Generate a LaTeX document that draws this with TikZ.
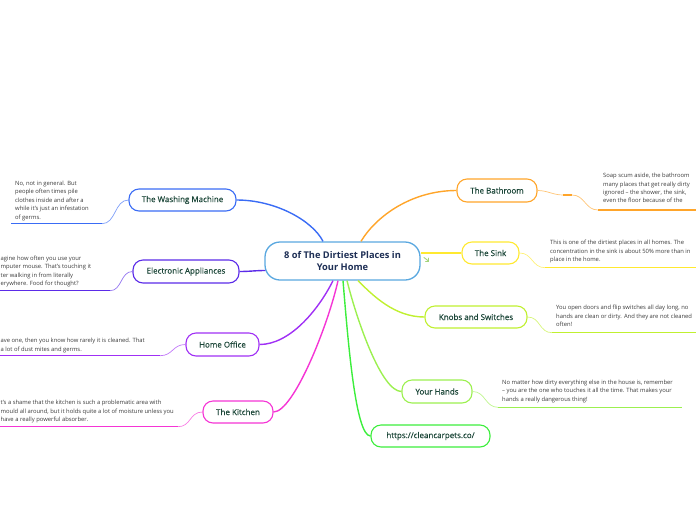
\documentclass[tikz,border=0pt]{standalone}
\usepackage{fontspec}
\setmainfont{Open Sans}
\newfontfamily\labelfont{Open Sans}[FakeBold=0.25]
\usetikzlibrary{calc}
\definecolor{cblue}{HTML}{3A6CF5}
\definecolor{cindigo}{HTML}{5B2BE8}
\definecolor{cpurple}{HTML}{A030F5}
\definecolor{cmagenta}{HTML}{F535D5}
\definecolor{corange}{HTML}{FFA52A}
\definecolor{cyellow}{HTML}{FFE930}
\definecolor{clime}{HTML}{C0F030}
\definecolor{clgreen}{HTML}{9CF050}
\definecolor{cgreen}{HTML}{3CEE3C}
\definecolor{ccentral}{HTML}{5AA8E0}
\definecolor{labelc}{HTML}{1B4638}
\definecolor{centralc}{HTML}{1E2F55}
\definecolor{notec}{HTML}{3A3A3A}
\begin{document}
\begin{tikzpicture}[x=1pt,y=-1pt]
\useasboundingbox (0,0) rectangle (696,520);
\clip (0,0) rectangle (696,520);
\tikzset{
  topic/.style={draw=#1, line width=1.1pt, rounded corners=10pt, fill=white,
    font=\labelfont\fontsize{8}{10}\selectfont, text=labelc, inner sep=0pt},
  centraltopic/.style={draw=ccentral, line width=1.3pt, rounded corners=15pt, fill=white,
    font=\fontsize{9.3}{12.5}\selectfont\bfseries, text=centralc, align=center, inner sep=0pt},
  notetext/.style={font=\fontsize{5.85}{8}\selectfont, text=notec, inner sep=0pt, anchor=base west},
  branch/.style={draw=#1, line width=1.4pt},
  notelink/.style={draw=#1!65, line width=0.7pt},
  uline/.style={draw=#1, line width=1.5pt},
}
% central
\node[centraltopic, minimum width=155pt, minimum height=38pt] (c) at (342.5,261) {8 of The Dirtiest Places in\\Your Home};
% topics
\node[topic=cblue, minimum width=107pt, minimum height=22pt] (wm) at (182.5,200) {The Washing Machine};
\node[topic=cindigo, minimum width=106pt, minimum height=23pt] (el) at (186,271.5) {Electronic Appliances};
\node[topic=cpurple, minimum width=73pt, minimum height=23pt] (ho) at (222.5,344.5) {Home Office};
\node[topic=cmagenta, minimum width=70pt, minimum height=22pt] (ki) at (238,412) {The Kitchen};
\node[topic=corange, minimum width=80pt, minimum height=23pt] (ba) at (497,190.5) {The Bathroom};
\node[topic=cyellow, minimum width=57pt, minimum height=22pt] (si) at (490.5,253) {The Sink};
\node[topic=clime, minimum width=102pt, minimum height=22pt] (kn) at (476,317) {Knobs and Switches};
\node[topic=clgreen, minimum width=70pt, minimum height=23pt] (ha) at (437,391.5) {Your Hands};
\node[topic=cgreen, minimum width=119pt, minimum height=22pt] (url) at (430.5,436) {https://cleancarpets.co/};
% branches
\draw[branch=cblue] ($(c.north)+(-19.5,0)$) .. controls +(-10,-20) and +(40,0) .. (wm.east);
\draw[branch=corange] ($(c.north)+(18.5,0)$) .. controls +(15,-25) and +(-45,0) .. (ba.west);
\draw[branch=cindigo] ($(c.west)+(1,9.5)$) .. controls +(-10,0) and +(10,0) .. (el.east);
\draw[branch=cyellow] ($(c.east)+(0,-8)$) .. controls +(12,0) and +(-12,0) .. (si.west);
\draw[branch=cpurple] ($(c.south)+(-9.5,0)$) .. controls +(-15,30) and +(30,0) .. (ho.east);
\draw[branch=cmagenta] ($(c.south)+(-4.5,0)$) .. controls +(-10,45) and +(20,0) .. (ki.east);
\draw[branch=cgreen] ($(c.south)+(0.5,0)$) .. controls +(5,60) and +(-15,0) .. (url.west);
\draw[branch=clgreen] ($(c.south)+(4.5,0)$) .. controls +(10,40) and +(-20,0) .. (ha.west);
\draw[branch=clime] ($(c.south)+(15.5,0)$) .. controls +(15,15) and +(-30,0) .. (kn.west);
% small icon
\draw[clgreen!80!black!70, line width=0.9pt, line cap=round] (424,257.5) -- (428.5,261);
\draw[clgreen!80!black!70, line width=0.9pt, line cap=round] (428.5,258) -- (428.5,261) -- (425.5,261);
% underline coordinates
\coordinate (wmA) at (11,223.7);  \coordinate (wmB) at (102,223.7);
\coordinate (elA) at (0,290.7);   \coordinate (elB) at (110,290.7);
\coordinate (hoA) at (0,355.7);   \coordinate (hoB) at (160,355.7);
\coordinate (kiA) at (0,426.7);   \coordinate (kiB) at (178,426.7);
\coordinate (baD1) at (563,195);  \coordinate (baD2) at (572,195);
\coordinate (baA) at (598,210);   \coordinate (baB) at (696,210);
\coordinate (siA) at (545,267.7); \coordinate (siB) at (696,267.7);
\coordinate (knA) at (552,332.7); \coordinate (knB) at (696,332.7);
\coordinate (haA) at (498,407.3); \coordinate (haB) at (682,407.3);
% note links and underlines
\draw[notelink=cblue] (wm.west) .. controls +(-14,0) and +(14,0) .. (wmB);
\draw[uline=cblue] (wmA) -- (wmB);
\draw[notelink=cindigo] (el.west) .. controls +(-12,0) and +(12,0) .. (elB);
\draw[uline=cindigo] (elA) -- (elB);
\draw[notelink=cpurple] (ho.west) .. controls +(-13,0) and +(13,0) .. (hoB);
\draw[uline=cpurple] (hoA) -- (hoB);
\draw[notelink=cmagenta] (ki.west) .. controls +(-13,0) and +(13,0) .. (kiB);
\draw[uline=cmagenta] (kiA) -- (kiB);
\draw[notelink=corange] (ba.east) .. controls +(10,0) and +(-10,0) .. (baD1);
\draw[corange, line width=2pt] (baD1) -- (baD2);
\draw[notelink=corange] (baD2) .. controls +(13,0) and +(-13,0) .. (baA);
\draw[uline=corange] (baA) -- (baB);
\draw[notelink=cyellow] (si.east) .. controls +(13,0) and +(-13,0) .. (siA);
\draw[uline=cyellow] (siA) -- (siB);
\draw[notelink=clime] (kn.east) .. controls +(13,0) and +(-13,0) .. (knA);
\draw[uline=clime] (knA) -- (knB);
\draw[notelink=clgreen] (ha.east) .. controls +(13,0) and +(-13,0) .. (haA);
\draw[uline=clgreen] (haA) -- (haB);
% notes: washing machine
\node[notetext] (wm1) at (15,185) {No, not in general. But};
\node[notetext] (wm2) at (15,193.5) {people often times pile};
\node[notetext] (wm3) at (15,202) {clothes inside and after a};
\node[notetext] (wm4) at (15,210.5) {while it’s just an infestation};
\node[notetext] (wm5) at (15,219) {of germs.};
% electronic
\node[notetext] (el1) at (0.5,260.3) {agine how often you use your};
\node[notetext] (el2) at (0.5,268.7) {mputer mouse. That’s touching it};
\node[notetext] (el3) at (0.5,277) {ter walking in from literally};
\node[notetext] (el4) at (0.5,285.2) {erywhere. Food for thought?};
% home office
\node[notetext] (ho1) at (0.5,342) {ave one, then you know how rarely it is cleaned. That};
\node[notetext] (ho2) at (0.5,351) {a lot of dust mites and germs.};
% kitchen
\node[notetext] (ki1) at (0.5,404.7) {t’s a shame that the kitchen is such a problematic area with};
\node[notetext] (ki2) at (0.5,413) {mould all around, but it holds quite a lot of moisture unless you};
\node[notetext] (ki3) at (0.5,421.3) {have a really powerful absorber.};
% bathroom
\node[notetext] (ba1) at (603,177.7) {Soap scum aside, the bathroom};
\node[notetext] (ba2) at (603,186) {many places that get really dirty};
\node[notetext] (ba3) at (603,194.3) {ignored – the shower, the sink,};
\node[notetext] (ba4) at (603,202.7) {even the floor because of the};
% sink
\node[notetext] (si1) at (550,244.7) {This is one of the dirtiest places in all homes. The};
\node[notetext] (si2) at (550,253) {concentration in the sink is about 50\% more than in};
\node[notetext] (si3) at (550,261.7) {place in the home.};
% knobs
\node[notetext] (kn1) at (556,309.7) {You open doors and flip switches all day long, no};
\node[notetext] (kn2) at (556,318) {hands are clean or dirty. And they are not cleaned};
\node[notetext] (kn3) at (556,326.3) {often!};
% hands
\node[notetext] (ha1) at (502,384.7) {No matter how dirty everything else in the house is, remember};
\node[notetext] (ha2) at (502,392.7) {– you are the one who touches it all the time. That makes your};
\node[notetext] (ha3) at (502,401.3) {hands a really dangerous thing!};
\end{tikzpicture}
\end{document}
